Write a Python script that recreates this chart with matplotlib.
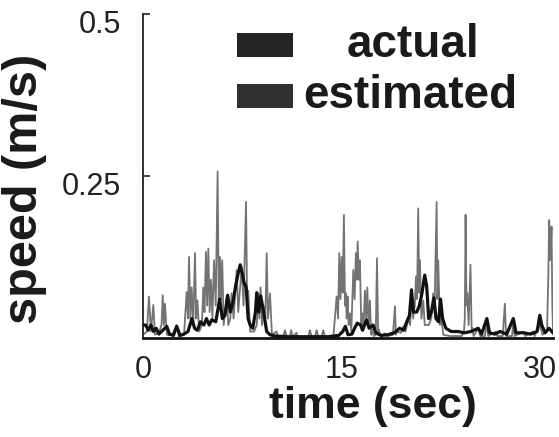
import matplotlib
matplotlib.use("Agg")
import matplotlib.pyplot as plt
from matplotlib.patches import Rectangle
import matplotlib.transforms as mtransforms

plt.rcParams['font.family'] = ['Liberation Sans', 'DejaVu Sans']

# ---- data ----
actual_t = [0.0, 0.2, 0.4, 0.6, 0.8, 1.0, 1.2, 1.5, 1.8, 2.0, 2.3, 2.55, 2.8, 3.1, 3.4, 3.7, 3.9,
            4.1, 4.35, 4.6, 4.8, 5.0, 5.2, 5.5, 5.8, 6.0, 6.2, 6.4, 6.6, 6.8, 7.0, 7.2, 7.35, 7.5,
            7.65, 7.8, 7.95, 8.1, 8.3, 8.5, 8.6, 8.75, 8.9, 9.05, 9.2, 9.35, 9.6, 10.0, 11.0, 12.0,
            13.0, 14.0, 14.8, 15.1, 15.3, 15.5, 15.8, 16.0, 16.2, 16.45, 16.6, 16.9, 17.1, 17.4,
            17.6, 18.0, 18.5, 19.0, 19.4, 19.7, 20.0, 20.15, 20.3, 20.45, 20.7, 20.9, 21.1, 21.3,
            21.45, 21.6, 21.8, 22.0, 22.15, 22.35, 22.5, 22.65, 22.9, 23.3, 23.8, 24.3, 24.8,
            25.35, 25.6, 26.0, 26.2, 26.6, 27.0, 27.5, 28.0, 28.2, 28.8, 29.3, 29.8, 30.0, 30.15,
            30.4, 30.7, 31.0]
actual_v = [0.02, 0.02, 0.012, 0.02, 0.01, 0.015, 0.006, 0.012, 0.018, 0.006, 0.004, 0.018, 0.004,
            0.006, 0.01, 0.03, 0.015, 0.012, 0.025, 0.02, 0.03, 0.02, 0.028, 0.025, 0.06, 0.03,
            0.035, 0.066, 0.04, 0.055, 0.08, 0.1, 0.113, 0.1, 0.085, 0.078, 0.03, 0.02, 0.015, 0.04,
            0.07, 0.04, 0.065, 0.048, 0.03, 0.01, 0.005, 0.003, 0.002, 0.002, 0.002, 0.002, 0.004,
            0.01, 0.018, 0.005, 0.006, 0.015, 0.023, 0.02, 0.012, 0.028, 0.015, 0.02, 0.008, 0.004,
            0.005, 0.008, 0.015, 0.012, 0.028, 0.035, 0.074, 0.04, 0.04, 0.05, 0.07, 0.097, 0.08,
            0.03, 0.04, 0.062, 0.03, 0.025, 0.06, 0.03, 0.015, 0.01, 0.01, 0.008, 0.01, 0.015,
            0.006, 0.03, 0.008, 0.006, 0.01, 0.006, 0.03, 0.008, 0.008, 0.006, 0.01, 0.035, 0.02,
            0.008, 0.015, 0.008]

estimated_t = [0.0, 0.3, 0.45, 0.6, 0.78, 0.9, 1.2, 1.4, 1.49, 1.58, 1.66, 1.8, 2.2, 2.54, 2.7,
               3.1, 3.3, 3.4, 3.48, 3.58, 3.68, 3.8, 3.93, 4.02, 4.11, 4.25, 4.45, 4.56, 4.65,
               4.76, 4.85, 4.94, 5.04, 5.14, 5.25, 5.37, 5.5, 5.64, 5.73, 5.82, 5.9, 5.99, 6.1,
               6.33, 6.45, 6.6, 6.7, 6.85, 7.08, 7.2, 7.46, 7.6, 7.79, 7.88, 7.96, 8.1, 8.4, 8.6,
               8.72, 8.8, 8.89, 9.0, 9.15, 9.25, 9.35, 9.45, 9.6, 9.75, 10.1, 10.2, 10.6, 10.73,
               10.85, 11.1, 11.2, 11.3, 11.6, 11.7, 12.5, 12.62, 12.75, 13.0, 13.13, 13.25, 13.5,
               13.63, 13.75, 14.4, 14.64, 14.75, 14.84, 14.93, 15.02, 15.1, 15.19, 15.27, 15.34,
               15.4, 15.47, 15.55, 15.65, 15.75, 15.9, 16.0, 16.1, 16.17, 16.23, 16.32, 16.4, 16.5,
               16.58, 16.68, 16.78, 16.87, 16.96, 17.05, 17.16, 17.25, 17.33, 17.45, 17.6, 17.69,
               17.78, 17.84, 17.95, 18.3, 18.5, 18.9, 19.05, 19.12, 19.2, 19.5, 19.68, 19.85, 20.06,
               20.2, 20.31, 20.42, 20.55, 20.64, 20.72, 20.81, 20.88, 20.94, 21.05, 21.19, 21.3,
               21.6, 21.8, 21.94, 22.05, 22.2, 22.26, 22.32, 22.45, 22.58, 22.7, 23.2, 24.1, 24.27,
               24.33, 24.39, 24.46, 24.52, 24.62, 24.76, 24.85, 24.9, 25.0, 25.35, 25.5, 25.85,
               25.97, 26.1, 26.68, 26.8, 27.2, 27.36, 27.45, 27.9, 27.99, 28.1, 28.75, 28.9, 29.5,
               29.6, 30.0, 30.2, 30.55, 30.65, 30.71, 30.8, 30.89, 30.95, 31.0]
estimated_v = [0.005, 0.01, 0.064, 0.01, 0.051, 0.005, 0.008, 0.02, 0.066, 0.02, 0.053, 0.005,
               0.004, 0.02, 0.003, 0.005, 0.071, 0.03, 0.125, 0.03, 0.078, 0.02, 0.131, 0.03,
               0.058, 0.01, 0.02, 0.078, 0.04, 0.133, 0.05, 0.138, 0.04, 0.09, 0.03, 0.12, 0.05,
               0.257, 0.05, 0.125, 0.06, 0.12, 0.02, 0.064, 0.02, 0.03, 0.069, 0.03, 0.105, 0.04,
               0.11, 0.05, 0.21, 0.04, 0.073, 0.01, 0.01, 0.02, 0.069, 0.03, 0.078, 0.02, 0.049,
               0.03, 0.131, 0.03, 0.069, 0.005, 0.01, 0.002, 0.002, 0.012, 0.002, 0.002, 0.012,
               0.002, 0.008, 0.002, 0.002, 0.012, 0.002, 0.002, 0.012, 0.002, 0.002, 0.012, 0.002,
               0.003, 0.064, 0.03, 0.131, 0.06, 0.125, 0.07, 0.19, 0.05, 0.069, 0.03, 0.064, 0.02,
               0.038, 0.01, 0.105, 0.06, 0.131, 0.09, 0.149, 0.09, 0.12, 0.02, 0.038, 0.02, 0.073,
               0.03, 0.078, 0.02, 0.058, 0.005, 0.013, 0.003, 0.005, 0.123, 0.005, 0.013, 0.003,
               0.007, 0.003, 0.005, 0.049, 0.005, 0.01, 0.008, 0.018, 0.01, 0.03, 0.02, 0.076,
               0.03, 0.05, 0.095, 0.06, 0.2, 0.07, 0.12, 0.03, 0.058, 0.02, 0.02, 0.03, 0.069,
               0.05, 0.21, 0.06, 0.12, 0.02, 0.028, 0.005, 0.003, 0.003, 0.01, 0.03, 0.19, 0.05,
               0.069, 0.02, 0.113, 0.01, 0.015, 0.003, 0.015, 0.003, 0.003, 0.022, 0.003, 0.01,
               0.003, 0.003, 0.053, 0.003, 0.003, 0.022, 0.003, 0.01, 0.003, 0.01, 0.003, 0.02,
               0.005, 0.01, 0.1, 0.182, 0.12, 0.172, 0.05, 0.01]

x_ticks = [0, 15, 30]
x_ticklabels = ["0", "15", "30"]
y_ticks = [0.25, 0.5]
y_ticklabels = ["0.25", "0.5"]
legend_labels = ["actual", "estimated"]
x_label = "time (sec)"
y_label = "speed (m/s)"

# ---- figure ----
fig = plt.figure(figsize=(5.59, 4.37), dpi=100)
ax = fig.add_axes([143 / 559, 1 - 338 / 437, 410 / 559, 324 / 437])

ax.plot(estimated_t, estimated_v, color='#737373', lw=1.3, zorder=2)
ax.plot(actual_t, actual_v, color='#111111', lw=2.3, zorder=3)

ax.set_xlim(0, 31)
ax.set_ylim(0, 0.5)
ax.set_xticks(x_ticks)
ax.set_xticklabels(x_ticklabels)
ax.set_yticks(y_ticks)
ax.set_yticklabels(y_ticklabels)

for s in ['top', 'right']:
    ax.spines[s].set_visible(False)
ax.spines['left'].set_linewidth(1.3)
ax.spines['left'].set_color('#222222')
ax.spines['bottom'].set_linewidth(2.0)
ax.spines['bottom'].set_color('#111111')

ax.tick_params(axis='x', length=0, pad=12, labelsize=22, labelcolor='#222222')
ax.tick_params(axis='y', direction='in', length=5, width=1.2, pad=16, labelsize=22,
               labelcolor='#222222', color='#222222')

offset = mtransforms.ScaledTranslation(0, -8 / 100, fig.dpi_scale_trans)
for lab in ax.get_yticklabels():
    lab.set_transform(lab.get_transform() + offset)

ax.set_xlabel(x_label, fontsize=32, fontweight='bold', color='#1a1a1a')
ax.xaxis.set_label_coords(0.56, -0.148)
ax.set_ylabel(y_label, fontsize=35, fontweight='bold', color='#1a1a1a')
ax.yaxis.set_label_coords(-0.235, 0.46)

# legend drawn as boxes + centered text
box_colors = ['#252525', '#303030']
box_y = [0.867, 0.71]
text_x = [0.659, 0.651]
text_y = [0.904, 0.748]
for lbl, c, by, tx, ty in zip(legend_labels, box_colors, box_y, text_x, text_y):
    ax.add_patch(Rectangle((0.229, by), 0.137, 0.075, transform=ax.transAxes,
                           facecolor=c, edgecolor='none', clip_on=False))
    ax.text(tx, ty, lbl, transform=ax.transAxes, fontsize=33, fontweight='bold',
            color='#1a1a1a', ha='center', va='center')

fig.savefig('out.png', dpi=100)
